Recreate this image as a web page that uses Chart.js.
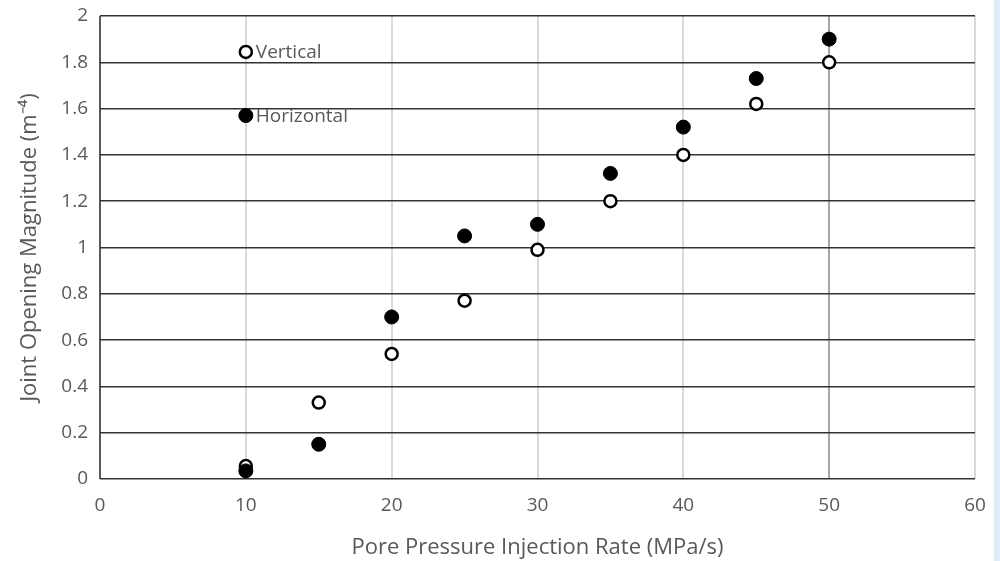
<!DOCTYPE html>
<html>
<head>
<meta charset="utf-8">
<script src="https://cdn.jsdelivr.net/npm/chart.js@4/dist/chart.umd.min.js"></script>
<style>
html,body{margin:0;padding:0;background:#fff;}
#wrap{width:1000px;height:561px;position:relative;}
</style>
</head>
<body>
<div id="wrap"><canvas id="c" width="1000" height="561"></canvas></div>
<script>
const rates = [10, 15, 20, 25, 30, 35, 40, 45, 50];
const verticalValues = [0.056, 0.33, 0.54, 0.77, 0.99, 1.20, 1.40, 1.62, 1.80];
const horizontalValues = [0.035, 0.15, 0.70, 1.05, 1.10, 1.32, 1.52, 1.73, 1.90];
const legendLabels = ['Vertical', 'Horizontal'];
const legendX = [10, 10];
const legendY = [1.845, 1.57];
const xTitle = 'Pore Pressure Injection Rate (MPa/s)';
const yTitle = 'Joint Opening Magnitude (m\u207B\u2074)';

const toPts = (xs, ys) => xs.map((x, i) => ({x: x, y: ys[i]}));
const txt = '#595959';
const fontFam = '"Open Sans", "Liberation Sans", sans-serif';

const openStyle = {backgroundColor: '#ffffff', borderColor: '#000000', borderWidth: 2.5, pointRadius: 6, pointHoverRadius: 6};
const fillStyle = {backgroundColor: '#000000', borderColor: '#000000', borderWidth: 1, pointRadius: 7, pointHoverRadius: 7};

const bgPlugin = {
  id: 'bg',
  beforeDraw(chart) {
    const ctx = chart.ctx;
    ctx.save();
    ctx.fillStyle = '#ffffff';
    ctx.fillRect(0, 0, chart.width, chart.height);
    ctx.fillStyle = '#deedfb';
    ctx.fillRect(994, 0, chart.width - 994, chart.height);
    ctx.restore();
  }
};
const labelPlugin = {
  id: 'pointLabels',
  afterDatasetsDraw(chart) {
    const ctx = chart.ctx, xs = chart.scales.x, ys = chart.scales.y;
    ctx.save();
    ctx.fillStyle = txt;
    ctx.font = '19px ' + fontFam;
    ctx.textBaseline = 'middle';
    ctx.textAlign = 'left';
    legendLabels.forEach((l, i) => {
      ctx.fillText(l, xs.getPixelForValue(legendX[i]) + 10, ys.getPixelForValue(legendY[i]) + 1);
    });
    ctx.restore();
  }
};

new Chart(document.getElementById('c'), {
  type: 'scatter',
  data: {
    datasets: [
      Object.assign({label: 'Horizontal', data: toPts(rates, horizontalValues)}, fillStyle),
      Object.assign({label: 'Vertical', data: toPts(rates, verticalValues)}, openStyle),
      Object.assign({label: 'Vertical marker', data: [{x: legendX[0], y: legendY[0]}]}, openStyle),
      Object.assign({label: 'Horizontal marker', data: [{x: legendX[1], y: legendY[1]}]}, fillStyle)
    ]
  },
  options: {
    responsive: false,
    animation: false,
    events: [],
    layout: {padding: {left: 0, right: 25, top: 16, bottom: 0}},
    plugins: {legend: {display: false}, tooltip: {enabled: false}},
    scales: {
      x: {
        type: 'linear', min: 0, max: 60,
        ticks: {stepSize: 10, color: txt, font: {size: 19, family: fontFam}, padding: 15, maxRotation: 0},
        grid: {
          drawTicks: false, lineWidth: 2,
          color: (c) => c.index === 0 ? '#595959' : (c.tick && c.tick.value === 50 ? '#a6a6a6' : '#d9d9d9')
        },
        border: {display: false},
        title: {display: true, text: xTitle, color: txt, font: {size: 22, family: fontFam}, padding: {top: 0, bottom: 0}},
        afterFit(s) { s.height = 82; s.paddingLeft = 0; s.paddingRight = 0; }
      },
      y: {
        type: 'linear', min: 0, max: 2,
        ticks: {stepSize: 0.2, color: txt, font: {size: 19, family: fontFam}, padding: 12,
          callback: (v) => String(parseFloat(Number(v).toFixed(1)))},
        grid: {drawTicks: false, lineWidth: 1.5, color: '#333333'},
        border: {display: false},
        title: {display: true, text: yTitle, color: txt, font: {size: 22, family: fontFam}, padding: {top: 17, bottom: 0}},
        afterFit(s) { s.width = 100; s.paddingTop = 0; s.paddingBottom = 0; }
      }
    }
  },
  plugins: [bgPlugin, labelPlugin]
});
</script>
</body>
</html>
